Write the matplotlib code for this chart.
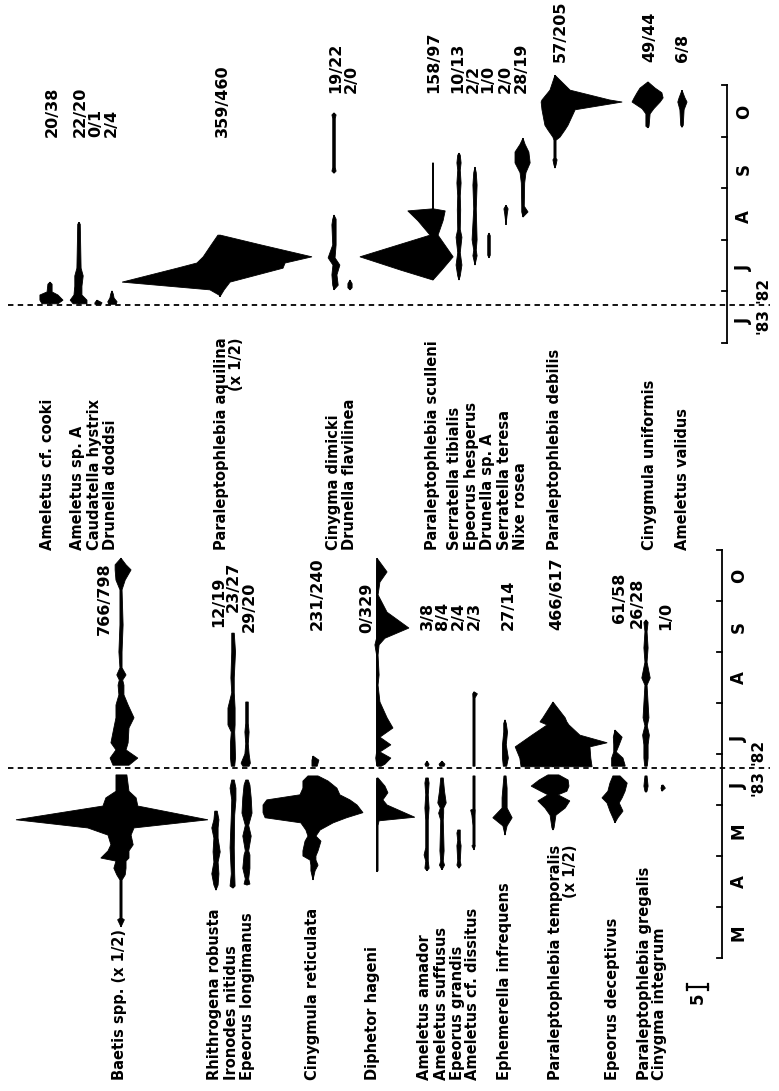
import numpy as np
import matplotlib.pyplot as plt

plt.rcParams['font.family'] = ['DejaVu Sans']
plt.rcParams['font.weight'] = 'bold'

# time is in months after 1 March (0 = 1 Mar ... 8 = 1 Nov)
MONTHS = ['M', 'A', 'M', 'J', 'J', 'A', 'S', 'O']
YEAR_BREAK = 3.73          # '83 below, '82 above
PX_PER_IND = 4.2           # kite half width per individual (scale bar = 5)
SCALE_BAR = 5

# ---------- left panel kites: (month, side A, side B) ----------
baetis_82 = [(7.84, 0, 0), (7.71, 1.4, 1.2), (7.61, 1.4, 2.4), (7.41, 1.2, 1.0), (7.22, 0.25, 0.25),
             (6.53, 0.25, 0.5), (6.0, 0.5, 0.25), (5.69, 0.25, 0.25), (5.55, 1.0, 1.2), (5.45, 0.4, 0.4),
             (5.35, 0.7, 0.7), (5.16, 0.5, 0.7), (4.96, 1.2, 1.7), (4.71, 1.2, 3.1), (4.51, 1.7, 1.9),
             (4.22, 2.4, 1.7), (4.08, 1.2, 1.2), (3.92, 2.6, 4.0), (3.78, 1.9, 1.9)]
baetis_83 = [(3.59, 1.2, 1.4), (3.27, 1.2, 1.9), (3.14, 3.6, 3.6), (2.98, 4.3, 4.0), (2.71, 25.0, 20.7),
             (2.55, 7.9, 3.1), (2.41, 3.1, 2.4), (2.22, 2.4, 2.9), (2.10, 3.1, 1.9), (1.96, 4.8, 1.9),
             (1.90, 1.2, 1.2), (1.76, 1.7, 1.2), (1.63, 1.0, 1.0), (1.53, 0.25, 0.25), (0.78, 0.25, 0.25),
             (0.75, 0.8, 0.8), (0.61, 0, 0)]
rhithrogena_83 = [(2.88, 0.3, 0.3), (2.71, 0.5, 0.7), (2.55, 1.0, 0.5), (2.35, 0.5, 0.5), (2.08, 0.7, 1.0),
                  (1.88, 0.5, 0.5), (1.65, 1.0, 0.7), (1.43, 0.5, 0.5), (1.33, 0, 0)]
ironodes_82 = [(6.37, 0.3, 0.3), (6.0, 0.3, 0.6), (5.49, 0.5, 0.3), (5.2, 0.3, 0.3), (4.9, 1.2, 0.5),
               (4.57, 1.2, 0.5), (4.43, 0.4, 0.4), (4.22, 0.6, 0.5), (3.92, 0.6, 0.6), (3.76, 0.4, 0.4)]
ironodes_83 = [(3.49, 0.3, 0.3), (3.33, 0.7, 0.7), (3.10, 0.3, 0.7), (2.80, 0.4, 0.4), (2.16, 0.7, 0.3),
               (1.65, 0.4, 0.4), (1.41, 0.7, 0.5), (1.37, 0, 0)]
longimanus_82 = [(5.02, 0.3, 0.3), (4.6, 0.3, 0.3), (4.43, 0.5, 0.5), (4.2, 0.3, 0.3), (4.0, 0.5, 0.5),
                 (3.82, 1.4, 0.8), (3.76, 1.0, 0.5)]
longimanus_83 = [(3.49, 0.3, 0.3), (3.39, 0.7, 0.7), (3.14, 1.0, 1.0), (2.84, 1.2, 1.2), (2.6, 0.4, 0.4),
                 (2.39, 1.0, 1.0), (2.1, 0.4, 0.4), (2.02, 0.7, 0.7), (1.76, 1.0, 0.7), (1.55, 0.4, 0.4),
                 (1.45, 0.7, 0.7), (1.43, 0, 0)]
reticulata_82 = [(3.96, 0, 0), (3.88, 0.25, 1.4), (3.76, 0.25, 1.0)]
reticulata_83 = [(3.57, 1.2, 1.2), (3.47, 2.4, 3.6), (3.33, 2.4, 5.7), (3.20, 3.1, 6.4), (3.10, 11.0, 8.8),
                 (3.00, 11.9, 10.5), (2.85, 11.9, 11.9), (2.75, 11.4, 8.0), (2.65, 2.9, 4.8),
                 (2.51, 1.7, 1.7), (2.39, 1.2, 0.7), (2.29, 1.9, 1.9), (2.10, 2.4, 1.2), (2.00, 2.4, 0.7),
                 (1.92, 0.7, 0.7), (1.82, 0.5, 1.2), (1.71, 0.5, 0.5), (1.53, 0, 0)]
diphetor_82 = [(7.84, 0, 0), (7.57, 0.1, 2.4), (7.37, 0.1, 0.7), (7.12, 0.1, 0.25), (6.78, 0.1, 2.4),
               (6.47, 0.1, 7.6), (6.27, 0.1, 1.9), (6.14, 0.5, 0.5), (5.94, 0.1, 0.25), (5.55, 0.1, 0.5),
               (5.35, 0.1, 0.25), (5.02, 0.1, 0.7), (4.71, 0.1, 2.4), (4.51, 0.1, 3.8), (4.33, 0.1, 0.7),
               (4.18, 0.1, 3.3), (4.04, 0.1, 0.7), (3.92, 0.3, 3.3), (3.80, 0.1, 1.9), (3.76, 0, 1.0)]
diphetor_83 = [(3.53, 0, 0.25), (3.37, 0.1, 1.9), (3.24, 0.1, 2.6), (3.10, 0.1, 1.4), (3.00, 0.1, 2.4),
               (2.76, 0.1, 9.0), (2.69, 0.1, 0.5), (2.60, 0.1, 0.25), (1.71, 0.1, 0.25), (1.69, 0, 0)]
amador_82 = [(3.86, 0, 0), (3.80, 0.5, 0.5), (3.76, 0.3, 0.3)]
amador_83 = [(3.53, 0.3, 0.3), (3.43, 0.5, 0.5), (3.2, 0.3, 0.3), (2.94, 0.5, 0.5), (2.7, 0.3, 0.3),
             (2.16, 0.3, 0.3), (2.02, 0.7, 0.3), (1.9, 0.3, 0.3), (1.76, 0.5, 0.5), (1.71, 0, 0)]
suffusus_82 = [(3.86, 0, 0), (3.80, 0.7, 0.7), (3.76, 0.5, 0.5)]
suffusus_83 = [(3.53, 0.3, 0.3), (3.27, 0.6, 0.6), (3.04, 1.0, 1.0), (2.94, 0.4, 0.4), (2.84, 0.8, 0.4),
               (2.7, 0.3, 0.3), (2.1, 0.5, 0.5), (1.9, 0.3, 0.3), (1.82, 0.6, 0.6), (1.73, 0, 0)]
grandis_83 = [(2.51, 0.3, 0.3), (2.45, 0.5, 0.3), (2.3, 0.3, 0.3), (2.2, 0.5, 0.5), (1.9, 0.3, 0.3),
              (1.82, 0.5, 0.5), (1.76, 0, 0)]
dissitus_82 = [(5.22, 0, 0), (5.18, 0.3, 0.8), (5.1, 0.25, 0.25), (3.76, 0.25, 0.25)]
dissitus_83 = [(3.57, 0.25, 0.25), (2.92, 0.25, 0.25), (2.90, 0.8, 0.3), (2.80, 0.5, 0.25), (2.6, 0.25, 0.25),
               (2.22, 0.25, 0.25), (2.20, 0.5, 0.3), (2.12, 0, 0)]
infrequens_82 = [(4.67, 0, 0), (4.6, 0.3, 0.3), (4.43, 0.3, 0.6), (4.18, 0.6, 0.3), (3.92, 0.6, 0.8),
                 (3.76, 0.4, 0.4)]
infrequens_83 = [(3.57, 0.25, 0.25), (3.33, 0.5, 0.5), (3.14, 0.7, 0.5), (2.94, 0.7, 0.5), (2.75, 2.9, 1.7),
                 (2.59, 0.5, 0.5), (2.41, 0, 0)]
temporalis_82 = [(5.02, 0, 0), (4.71, 2.4, 2.9), (4.63, 3.1, 3.3), (4.57, 1.4, 3.8), (4.37, 5.0, 6.4),
                 (4.22, 7.6, 12.9), (4.14, 9.0, 8.8), (3.92, 7.9, 9.0), (3.75, 7.6, 9.3)]
temporalis_83 = [(3.59, 1.2, 1.4), (3.49, 3.3, 3.6), (3.37, 5.2, 3.8), (3.27, 2.9, 3.3), (3.20, 1.2, 1.2),
                 (3.08, 3.6, 4.0), (2.94, 1.9, 2.9), (2.80, 0.7, 0.7), (2.55, 0.25, 0.25), (2.51, 0, 0)]
deceptivus_82 = [(4.47, 0, 0), (4.33, 0.4, 1.7), (4.18, 0.3, 1.0), (4.04, 0.3, 0.3), (3.92, 0.8, 1.9),
                 (3.78, 0.8, 2.4), (3.76, 0.8, 2.4)]
deceptivus_83 = [(3.57, 0.5, 1.2), (3.43, 1.2, 2.9), (3.27, 1.7, 2.4), (3.14, 3.1, 1.7), (3.04, 1.9, 1.0),
                 (2.88, 1.2, 1.9), (2.75, 0.5, 0.7), (2.65, 0, 0)]
gregalis_82 = [(6.63, 0, 0), (6.58, 0.5, 0.5), (6.4, 0.25, 0.25), (6.08, 0.5, 0.5), (5.8, 0.25, 0.25),
               (5.49, 1.0, 1.0), (5.35, 0.25, 0.25), (4.71, 0.7, 0.7), (4.55, 0.25, 0.3), (4.37, 0.8, 0.8),
               (4.18, 0.5, 0.5), (3.92, 0.5, 0.5), (3.76, 0.3, 0.3)]
gregalis_83 = [(3.57, 0.25, 0.25), (3.37, 0.5, 0.5), (3.27, 0.25, 0.25), (3.25, 0, 0)]
integrum_83 = [(3.39, 0, 0.3), (3.33, 0.25, 0.8), (3.27, 0, 0)]

# ---------- right panel kites (1982 only) ----------
cooki = [(4.18, 0, 0), (4.14, 0.5, 0.5), (3.99, 0.7, 0.5), (3.93, 2.4, 1.9), (3.83, 2.4, 3.1), (3.76, 1.9, 1.9)]
ameletus_a = [(5.34, 0, 0), (5.30, 0.3, 0.3), (4.45, 0.5, 0.5), (4.3, 1.0, 1.0), (4.1, 1.0, 0.7),
              (3.93, 1.2, 0.7), (3.83, 2.1, 1.9), (3.76, 1.4, 1.9)]
hystrix = [(3.83, 0, 0), (3.78, 0.5, 1.2), (3.75, 0.5, 1.0)]
doddsi = [(4.01, 0, 0), (3.95, 0.3, 0.3), (3.87, 0.5, 0.5), (3.80, 1.0, 1.2), (3.75, 0.8, 1.0)]
aquilina = [(5.09, 0.5, 0.1), (4.90, 2.1, 9.8), (4.67, 4.0, 21.9), (4.55, 5.5, 15.5), (4.45, 10.2, 15.0),
            (4.18, 23.3, 2.4), (4.03, 2.4, 1.0), (3.93, 0.25, 0.25), (3.90, 0, 0)]
dimicki_late = [(7.46, 0, 0), (7.42, 0.5, 0.5), (7.35, 0.3, 0.3), (6.4, 0.3, 0.3), (6.33, 0.5, 0.5), (6.29, 0, 0)]
dimicki_early = [(5.48, 0, 0), (5.40, 0.3, 0.5), (5.29, 0.5, 0.5), (4.90, 0.3, 0.5), (4.65, 1.4, 0.25),
                 (4.51, 0.25, 1.4), (4.32, 0.5, 0.7), (4.12, 0.3, 1.0), (4.03, 0, 0)]
flavilinea = [(4.22, 0, 0), (4.15, 0.5, 0.5), (4.07, 0.5, 0.5), (4.03, 0, 0)]
sculleni = [(6.49, 0.1, 0.1), (5.60, 0.1, 0.1), (5.56, 6.0, 2.9), (5.37, 3.6, 2.4), (5.09, 0.7, 1.2),
            (4.67, 17.4, 4.8), (4.41, 7.6, 2.1), (4.22, 0, 0)]
tibialis = [(6.68, 0, 0), (6.64, 0.3, 0.3), (6.49, 0.5, 0.5), (6.35, 0.3, 0.3), (6.10, 0.5, 0.5),
            (5.85, 0.3, 0.3), (5.58, 0.4, 0.4), (5.2, 0.3, 0.3), (5.05, 0.7, 0.7), (4.75, 0.3, 0.3),
            (4.51, 0.7, 0.7), (4.3, 0.3, 0.3), (4.22, 0, 0)]
hesperus = [(6.41, 0, 0), (6.3, 0.3, 0.3), (6.06, 0.5, 0.5), (5.6, 0.3, 0.3), (5.0, 0.7, 0.5),
            (4.8, 0.3, 0.3), (4.69, 0.5, 0.5), (4.51, 0, 0)]
drunella_a = [(5.13, 0, 0), (5.08, 0.3, 0.3), (4.7, 0.3, 0.3), (4.65, 0, 0)]
teresa = [(5.67, 0, 0), (5.6, 0.5, 0.5), (5.5, 0.3, 0.3), (5.29, 0, 0)]
nixe = [(6.97, 0, 0), (6.85, 0.7, 0.5), (6.70, 1.9, 1.4), (6.49, 1.9, 1.7), (6.30, 0.7, 0.7),
        (6.10, 0.4, 0.4), (5.65, 0.3, 0.3), (5.54, 0.3, 1.2), (5.44, 0, 0)]
debilis = [(8.19, 0, 0), (7.90, 1.2, 3.6), (7.71, 3.1, 13.0), (7.67, 3.3, 16.0), (7.52, 3.1, 4.8),
           (7.22, 2.4, 3.1), (7.13, 1.7, 2.4), (6.99, 0.5, 1.2), (6.93, 0.25, 0.25), (6.58, 0.25, 0.25),
           (6.55, 0.5, 0.5), (6.45, 0.25, 0.25), (6.39, 0, 0)]
uniformis = [(8.06, 0, 0), (7.94, 1.9, 1.7), (7.85, 2.6, 3.3), (7.75, 3.3, 3.6), (7.67, 3.8, 2.9),
             (7.54, 1.4, 1.4), (7.44, 0.5, 0.5), (7.20, 0.5, 0.25), (7.17, 0, 0)]
validus = [(7.90, 0, 0), (7.75, 0.7, 0.7), (7.67, 1.0, 1.2), (7.52, 0.5, 0.5), (7.22, 0.3, 0.3), (7.18, 0, 0)]

# ---------- labels ----------
left_names = ['Baetis spp. (x 1/2)', 'Rhithrogena robusta', 'Ironodes nitidus', 'Epeorus longimanus',
              'Cinygmula reticulata', 'Diphetor hageni', 'Ameletus amador', 'Ameletus suffusus',
              'Epeorus grandis', 'Ameletus cf. dissitus', 'Ephemerella infrequens',
              'Paraleptophlebia temporalis\n(x 1/2)', 'Epeorus deceptivus', 'Paraleptophlebia gregalis',
              'Cinygma integrum']
left_counts = ['766/798', '12/19', '23/27', '29/20', '231/240', '0/329', '3/8', '8/4', '2/4', '2/3',
               '27/14', '466/617', '61/58', '26/28', '1/0']
right_names = ['Ameletus cf. cooki', 'Ameletus sp. A', 'Caudatella hystrix', 'Drunella doddsi',
               'Paraleptophlebia aquilina\n(x 1/2)', 'Cinygma dimicki', 'Drunella flavilinea',
               'Paraleptophlebia sculleni', 'Serratella tibialis', 'Epeorus hesperus', 'Drunella sp. A',
               'Serratella teresa', 'Nixe rosea', 'Paraleptophlebia debilis', 'Cinygmula uniformis',
               'Ameletus validus']
right_counts = ['20/38', '22/20', '0/1', '2/4', '359/460', '19/22', '2/0', '158/97', '10/13', '2/2',
                '1/0', '2/0', '28/19', '57/205', '49/44', '6/8']

# ---------- layout (pixel columns of each kite / label) ----------
left_kites = [(121, [baetis_82, baetis_83]), (216, [rhithrogena_83]), (233, [ironodes_82, ironodes_83]),
              (247, [longimanus_82, longimanus_83]), (313, [reticulata_82, reticulata_83]),
              (377, [diphetor_82, diphetor_83]), (427, [amador_82, amador_83]),
              (442, [suffusus_82, suffusus_83]), (459, [grandis_83]), (474, [dissitus_82, dissitus_83]),
              (505, [infrequens_82, infrequens_83]), (553, [temporalis_82, temporalis_83]),
              (615, [deceptivus_82, deceptivus_83]), (646, [gregalis_82, gregalis_83]),
              (662, [integrum_83])]
right_kites = [(50, [cooki]), (79, [ameletus_a]), (97, [hystrix]), (112, [doddsi]), (220, [aquilina]),
               (334, [dimicki_late, dimicki_early]), (350, [flavilinea]), (433, [sculleni]),
               (459, [tibialis]), (475, [hesperus]), (489, [drunella_a]), (506, [teresa]), (523, [nixe]),
               (555, [debilis]), (648, [uniformis]), (682, [validus])]
left_name_x = [120, 215, 232, 248, 313, 373, 425, 442, 458, 473, 505, 563, 613, 645, 660]
left_count_x = [104, 219, 233, 249, 317, 367, 427, 443, 458, 474, 508, 557, 620, 637, 666]
left_count_t = [6.33, 6.49, 6.78, 6.39, 6.43, 6.37, 6.43, 6.43, 6.43, 6.43, 6.43, 6.43, 6.57, 6.47, 6.43]
right_name_x = [48, 78, 95, 111, 229, 334, 350, 433, 455, 472, 488, 505, 521, 555, 650, 683]
right_count_x = [52, 80, 96, 111, 222, 336, 351, 434, 458, 473, 488, 505, 521, 560, 650, 683]
right_count_t = [6.99] * 5 + [7.84] * 8 + [8.45] * 3

W, H = 779, 1091
fig = plt.figure(figsize=(W / 100, H / 100), dpi=100)
# both panels share the page; each gets its own month scale (~51 px per month)
ax_l = fig.add_axes([0, 0, 1, 1])
ax_r = fig.add_axes([0, 0, 1, 1])
ax_l.set_xlim(0, W)
ax_l.set_ylim(-133 / 51, 958 / 51)
ax_r.set_xlim(0, W)
ax_r.set_ylim(3 - 748 / 51.6, 3 + 343 / 51.6)
for ax in (ax_l, ax_r):
    ax.axis('off')
    ax.patch.set_alpha(0)


def draw_kite(ax, x0, seg):
    t, a, b = np.asarray(seg, float).T
    xs = np.concatenate([x0 - a * PX_PER_IND, (x0 + b * PX_PER_IND)[::-1]])
    ys = np.concatenate([t, t[::-1]])
    ax.fill(xs, ys, color='black', lw=0.6)
    ax.plot([x0, x0], [t.min(), t.max()], color='black', lw=1.2, solid_capstyle='butt')


for x0, segs in left_kites:
    for seg in segs:
        draw_kite(ax_l, x0, seg)
for x0, segs in right_kites:
    for seg in segs:
        draw_kite(ax_r, x0, seg)


def time_axis(ax, x0, t0, t1, labels_t, labels):
    ax.plot([x0, x0], [t0, t1], color='black', lw=1.3)
    for t in range(t0, t1 + 1):
        ax.plot([x0 - 5, x0], [t, t], color='black', lw=1.3)
    for t, s in zip(labels_t, labels):
        ax.text(x0 + 17, t, s, rotation=90, ha='center', va='center', fontsize=12)
    ax.plot([8, 770], [YEAR_BREAK, YEAR_BREAK], color='black', lw=1.3, ls=(0, (3, 2.4)))
    ax.text(x0 + 36, YEAR_BREAK - 0.05, "'83", rotation=90, ha='center', va='top', fontsize=11)
    ax.text(x0 + 36, YEAR_BREAK + 0.05, "'82", rotation=90, ha='center', va='bottom', fontsize=11)


time_axis(ax_l, 722, 0, 8, [0.5, 1.5, 2.5, 3.37, 4.3, 5.5, 6.5, 7.5], MONTHS)
time_axis(ax_r, 727, 3, 8, [3.42, 4.45, 5.45, 6.38, 7.48], MONTHS[3:])

for s, x in zip(left_names, left_name_x):
    ax_l.text(x, -2.39, s, rotation=90, ha='center', va='bottom', fontsize=10.5,
              multialignment='right', linespacing=1.0)
for s, x, t in zip(left_counts, left_count_x, left_count_t):
    ax_l.text(x, t, s, rotation=90, ha='center', va='bottom', fontsize=11.5)
for s, x in zip(right_names, right_name_x):
    ax_r.text(x, -1.01, s, rotation=90, ha='center', va='bottom', fontsize=10.5,
              multialignment='right', linespacing=1.0)
for s, x, t in zip(right_counts, right_count_x, right_count_t):
    ax_r.text(x, t, s, rotation=90, ha='center', va='bottom', fontsize=11.5)

# scale bar: 5 individuals
bx0, bt = 687, -0.57
bx1 = bx0 + SCALE_BAR * PX_PER_IND
ax_l.plot([bx0, bx1], [bt, bt], color='black', lw=1.6)
ax_l.plot([bx0, bx0], [bt - 0.06, bt + 0.06], color='black', lw=1.6)
ax_l.plot([bx1, bx1], [bt - 0.06, bt + 0.06], color='black', lw=1.6)
ax_l.text((bx0 + bx1) / 2, bt - 0.1, str(SCALE_BAR), rotation=90, ha='center', va='top', fontsize=12)

fig.savefig('out.png', dpi=100, facecolor='white')
